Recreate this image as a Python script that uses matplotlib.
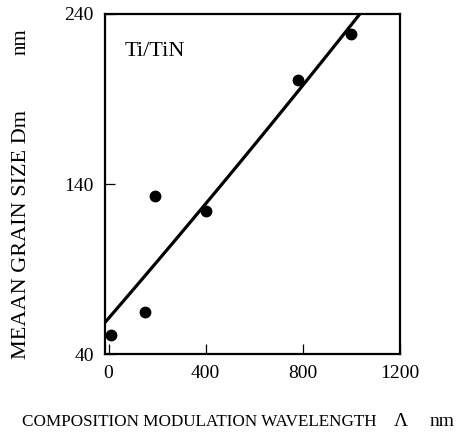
import matplotlib
matplotlib.use("Agg")
import matplotlib.pyplot as plt
import numpy as np

# Data
wavelength = [10, 150, 190, 400, 780, 1000]
grain_size = [51, 65, 133, 124, 201, 228]

fit_x = [-15, 400, 800, 1040]
fit_y = [59, 127, 200, 240]

x_ticks = [0, 400, 800, 1200]
y_ticks = [40, 140, 240]

plt.rcParams['font.family'] = ['Liberation Serif', 'DejaVu Serif']

fig = plt.figure(figsize=(4.62, 4.33), dpi=100)
ax = fig.add_axes([0.227, 0.182, 0.639, 0.786])

# Fitted line (smooth through a few points)
coef = np.polyfit(fit_x, fit_y, 2)
xx = np.linspace(fit_x[0], fit_x[-1], 100)
ax.plot(xx, np.polyval(coef, xx), color='black', lw=2.3, solid_capstyle='butt', zorder=2)

ax.plot(wavelength, grain_size, 'o', color='black', ms=7.5, zorder=3)

ax.set_xlim(-15, 1200)
ax.set_ylim(40, 240)
ax.set_xticks(x_ticks)
ax.set_yticks(y_ticks)
ax.tick_params(direction='in', length=7, width=0.9, labelsize=14, pad=8)
for s in ax.spines.values():
    s.set_linewidth(1.6)

ax.text(0.065, 0.89, 'Ti/TiN', transform=ax.transAxes, fontsize=16, va='center', ha='left')

fig.text(0.046, 0.458, 'MEAAN GRAIN SIZE Dm', rotation=90, fontsize=16,
         ha='center', va='center')
fig.text(0.046, 0.903, 'nm', rotation=90, fontsize=15, ha='center', va='center')

fig.text(0.048, 0.008, 'COMPOSITION MODULATION WAVELENGTH', fontsize=12.3,
         ha='left', va='bottom')
fig.text(0.868, 0.008, 'Λ', fontsize=14, ha='center', va='bottom')
fig.text(0.985, 0.008, 'nm', fontsize=14, ha='right', va='bottom')

fig.savefig('out.png', dpi=100)
